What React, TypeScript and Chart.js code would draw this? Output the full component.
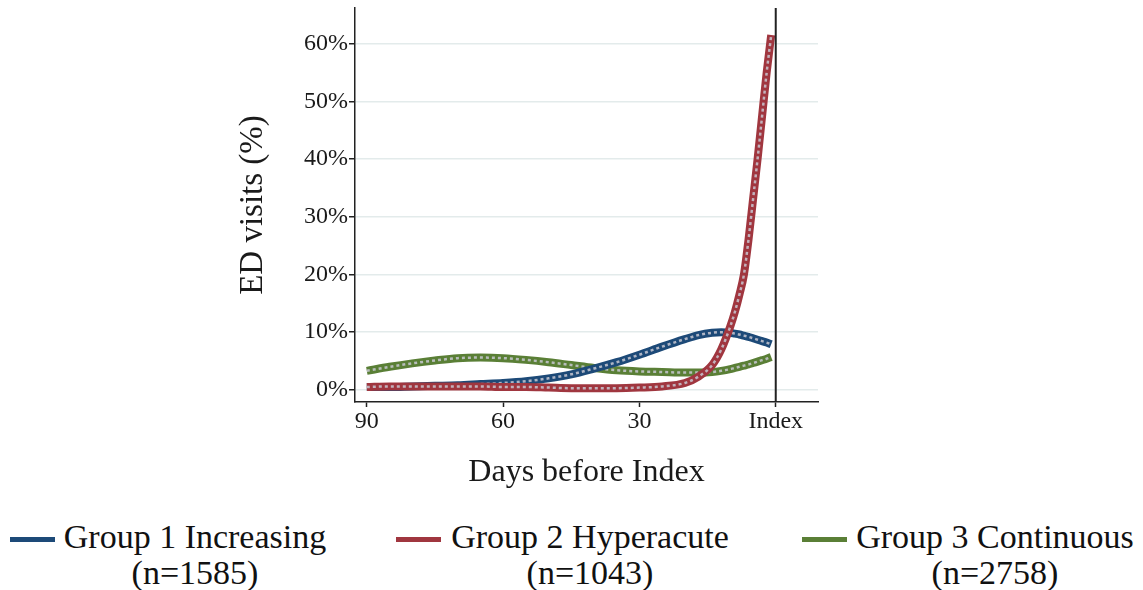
import React, { useEffect, useRef } from "react";
import { Chart, registerables } from "chart.js";

Chart.register(...registerables);

const daysBefore = [90, 85, 80, 75, 70, 65, 60, 55, 50, 45, 40, 35, 30, 25, 20, 17, 14, 12, 10, 9, 8, 7, 6, 5, 4, 3, 2, 1];
const group1 = [0.5, 0.5, 0.6, 0.7, 0.8, 1.0, 1.2, 1.5, 2.0, 2.7, 3.7, 4.8, 6.1, 7.5, 8.8, 9.5, 9.9, 10.0, 9.9, 9.75, 9.6, 9.4, 9.2, 8.95, 8.7, 8.45, 8.2, 7.9];
const group2 = [0.5, 0.6, 0.6, 0.6, 0.6, 0.6, 0.5, 0.5, 0.4, 0.3, 0.3, 0.3, 0.4, 0.6, 1.2, 2.3, 4.3, 7.0, 11.0, 13.5, 16.5, 20, 26, 33, 40, 47.5, 55, 61.5];
const group3 = [3.3, 4.0, 4.6, 5.1, 5.5, 5.6, 5.5, 5.2, 4.8, 4.3, 3.8, 3.4, 3.2, 3.1, 3.0, 3.0, 3.1, 3.3, 3.6, 3.8, 4.0, 4.2, 4.4, 4.65, 4.9, 5.15, 5.4, 5.7];

const xTickValues = [90, 60, 30, 0];
const xTickLabels = ["90", "60", "30", "Index"];
const yTickValues = [0, 10, 20, 30, 40, 50, 60];

const seriesNames = ["Group 1 Increasing", "Group 2 Hyperacute", "Group 3 Continuous"];
const seriesCounts = ["(n=1585)", "(n=1043)", "(n=2758)"];
const seriesColors = ["#1d4a78", "#a0363f", "#5a7f36"];

const FONT = "'Liberation Serif', 'Times New Roman', serif";

export default function App() {
  const canvasRef = useRef<HTMLCanvasElement | null>(null);

  useEffect(() => {
    const canvas = canvasRef.current;
    if (!canvas) return;
    const series = [group1, group2, group3];
    const toPts = (vals: number[]) => daysBefore.map((d, i) => ({ x: -d, y: vals[i] }));
    const orders = [[3, 2], [1, 0], [5, 4]];
    const datasets: any[] = [];
    series.forEach((vals, i) => {
      datasets.push({
        label: seriesNames[i],
        data: toPts(vals),
        borderColor: seriesColors[i],
        borderWidth: 8,
        pointRadius: 0,
        cubicInterpolationMode: "monotone",
        order: orders[i][0],
      });
      datasets.push({
        label: seriesNames[i] + " fit",
        data: toPts(vals),
        borderColor: "rgba(200,200,210,0.85)",
        borderWidth: 2.5,
        borderDash: [3, 3],
        pointRadius: 0,
        cubicInterpolationMode: "monotone",
        order: orders[i][1],
      });
    });

    const indexLine = {
      id: "indexLine",
      afterDatasetsDraw(chart: any) {
        const { ctx, chartArea, scales } = chart;
        const x = scales.x.getPixelForValue(0);
        ctx.save();
        ctx.strokeStyle = "#222";
        ctx.lineWidth = 2;
        ctx.beginPath();
        ctx.moveTo(x, chartArea.top);
        ctx.lineTo(x, chartArea.bottom);
        ctx.stroke();
        ctx.restore();
      },
    };

    const chart = new Chart(canvas, {
      type: "line",
      data: { datasets },
      plugins: [indexLine],
      options: {
        animation: false,
        responsive: false,
        maintainAspectRatio: false,
        layout: { padding: { left: 234, right: 325, top: 8, bottom: 8 } },
        plugins: { legend: { display: false }, tooltip: { enabled: false } },
        scales: {
          x: {
            type: "linear",
            min: -92.6,
            max: 9.3,
            afterBuildTicks: (scale: any) => {
              scale.ticks = xTickValues.map((v) => ({ value: -v }));
            },
            afterFit: (scale: any) => {
              scale.height = 90;
              scale.paddingLeft = 0;
              scale.paddingRight = 0;
            },
            grid: { drawOnChartArea: false, drawTicks: true, tickLength: 5, tickColor: "#222", tickWidth: 1.5 },
            border: { color: "#222", width: 1.5 },
            ticks: {
              color: "#1a1a1a",
              font: { family: FONT, size: 24 },
              padding: 0,
              maxRotation: 0,
              callback: (v: any) => {
                const i = xTickValues.indexOf(-Number(v));
                return i >= 0 ? xTickLabels[i] : "";
              },
            },
            title: {
              display: true,
              text: "Days before Index",
              color: "#1a1a1a",
              font: { family: FONT, size: 32 },
              padding: { top: 0, bottom: 0 },
            },
          },
          y: {
            type: "linear",
            min: -2.1,
            max: 66.2,
            afterBuildTicks: (scale: any) => {
              scale.ticks = yTickValues.map((v) => ({ value: v }));
            },
            afterFit: (scale: any) => {
              scale.width = 121;
              scale.paddingTop = 0;
              scale.paddingBottom = 0;
            },
            grid: { color: "#e3ebeb", lineWidth: 1.5, drawTicks: true, tickLength: 6, tickColor: "#222", tickWidth: 1.5 },
            border: { color: "#222", width: 1.5 },
            ticks: {
              color: "#1a1a1a",
              font: { family: FONT, size: 24 },
              padding: 1,
              callback: (v: any) => v + "%",
            },
            title: {
              display: true,
              text: "ED visits (%)",
              color: "#1a1a1a",
              font: { family: FONT, size: 33 },
              padding: { top: 0, bottom: 0 },
            },
          },
        },
      },
    });
    return () => chart.destroy();
  }, []);

  const itemLefts = [10, 396, 802];
  const textWidths = [264, 282, 280];

  return (
    <div style={{ position: "absolute", left: 0, top: 0, width: 1143, height: 590, background: "#fff", overflow: "hidden" }}>
      <canvas ref={canvasRef} width={1143} height={500} style={{ position: "absolute", left: 0, top: 0, width: 1143, height: 500 }} />
      {seriesNames.map((name, i) => (
        <div key={name} style={{ position: "absolute", left: itemLefts[i], top: 519, display: "flex", alignItems: "flex-start" }}>
          <div style={{ width: 45, height: 5, background: seriesColors[i], marginTop: 18, marginRight: 8 }} />
          <div style={{ width: textWidths[i], textAlign: "center", fontFamily: FONT, fontSize: 34, lineHeight: "36px", color: "#111", whiteSpace: "nowrap" }}>
            <div>{name}</div>
            <div>{seriesCounts[i]}</div>
          </div>
        </div>
      ))}
    </div>
  );
}
